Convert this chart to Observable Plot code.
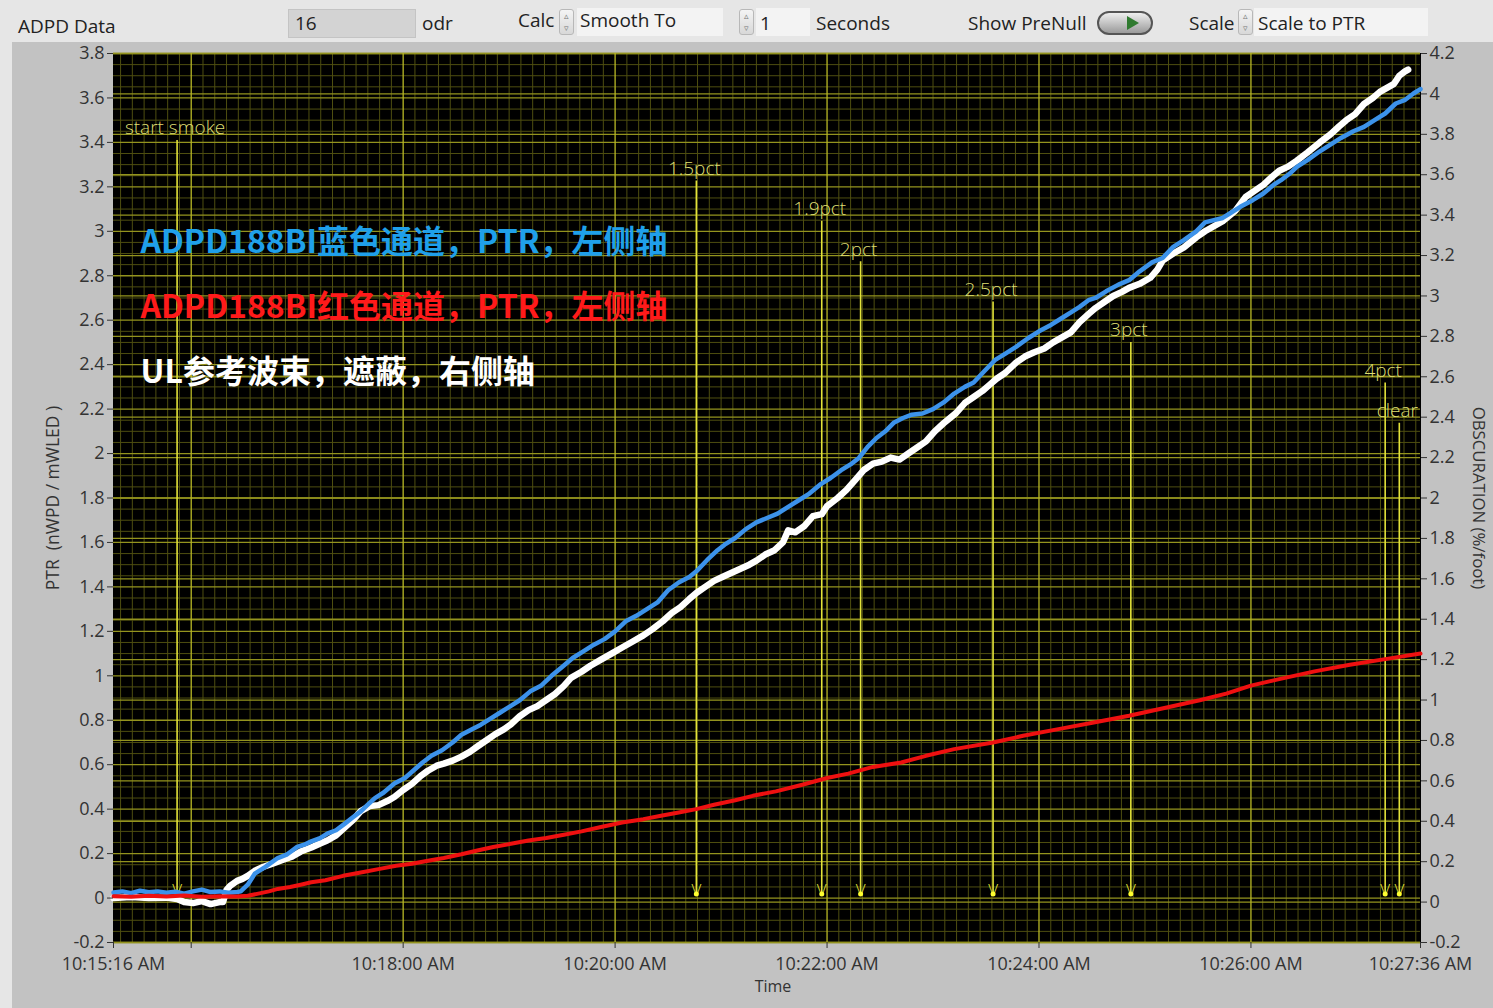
<!DOCTYPE html>
<html><head><meta charset="utf-8">
<script src="https://cdn.jsdelivr.net/npm/d3@7"></script>
<script src="https://cdn.jsdelivr.net/npm/@observablehq/plot@0.6"></script>
<style>
body{margin:0;width:1493px;height:1008px;overflow:hidden;position:relative;background:#e6e6e6;font-family:"Open Sans",sans-serif;}
.t{position:absolute;font-size:19px;color:#222;white-space:nowrap;line-height:24px;}
.box{position:absolute;box-sizing:border-box;}
.spin{position:absolute;width:15px;height:26px;box-sizing:border-box;border:1px solid #b8b8b8;border-radius:3px;background:linear-gradient(#f4f4f4,#d8d8d8);font-size:9px;color:#777;text-align:center;line-height:12px;}
#panel{position:absolute;left:12px;top:42px;}
</style></head><body>
<div class="box" style="left:288px;top:9px;width:128px;height:29px;background:#d3d3d3;border:1px solid #c4c4c4;"></div>
<div class="box" style="left:577px;top:8px;width:146px;height:28px;background:#f3f3f3;"></div>
<div class="box" style="left:756px;top:8px;width:54px;height:28px;background:#f3f3f3;"></div>
<div class="box" style="left:1254px;top:8px;width:174px;height:28px;background:#f3f3f3;"></div>
<div class="spin" style="left:559px;top:9px;">▵<br>▿</div>
<div class="spin" style="left:739px;top:9px;">▵<br>▿</div>
<div class="spin" style="left:1238px;top:9px;">▵<br>▿</div>
<div class="box" style="left:1097px;top:11px;width:56px;height:24px;border-radius:12px;border:2px solid #555;background:linear-gradient(#eeeeee,#9a9a9a);"></div>
<div class="box" style="left:1127px;top:16px;width:0;height:0;border-top:7px solid transparent;border-bottom:7px solid transparent;border-left:12px solid #2f7a2f;"></div>
<div class="t" style="left:18px;top:14px;">ADPD Data</div>
<div class="t" style="left:295px;top:11px;">16</div>
<div class="t" style="left:422px;top:11px;">odr</div>
<div class="t" style="left:518px;top:8px;">Calc</div>
<div class="t" style="left:580px;top:8px;">Smooth To</div>
<div class="t" style="left:760px;top:11px;">1</div>
<div class="t" style="left:816px;top:11px;">Seconds</div>
<div class="t" style="left:968px;top:11px;">Show PreNull</div>
<div class="t" style="left:1189px;top:11px;">Scale</div>
<div class="t" style="left:1258px;top:11px;">Scale to PTR</div>
<div id="panel"></div>
<script>
// ---------- data (time = seconds after 10:15:16) ----------
const startClock = "10:15:16";
const xTickClock = ["10:15:16","10:16:00","10:18:00","10:20:00","10:22:00","10:24:00","10:26:00","10:27:36"];
const xTickLabels = ["10:15:16 AM","","10:18:00 AM","10:20:00 AM","10:22:00 AM","10:24:00 AM","10:26:00 AM","10:27:36 AM"];
const leftTicks = [-0.2,0,0.2,0.4,0.6,0.8,1,1.2,1.4,1.6,1.8,2,2.2,2.4,2.6,2.8,3,3.2,3.4,3.6,3.8];
const rightTicks = [-0.2,0,0.2,0.4,0.6,0.8,1,1.2,1.4,1.6,1.8,2,2.2,2.4,2.6,2.8,3,3.2,3.4,3.6,3.8,4,4.2];

// ADPD188BI blue channel PTR (left axis)
const blueT = [0,5,10,15,20,25,30,35,40,45,50,55,60,65,70,72,76,80,86,93,98,104,108,112,117,121,126,131,135,140,144,148,153,159,165,170,175,180,186,192,197,203,208,213,219,225,230,236,242,248,254,260,266,272,278,284,290,296,302,308,314,320,326,330,336,342,346,352,358,364,370,376,382,388,394,400,406,412,418,422,427,432,437,442,447,452,458,464,470,476,482,487,493,499,505,511,518,524,531,537,543,547,552,556,562,569,575,581,588,594,600,606,613,618,623,628,632,638,645,651,657,661,666,670,676,683,689,695,702,708,714,720,726,731,736,740];
const blueV = [0.025,0.03,0.022,0.033,0.026,0.03,0.024,0.028,0.02,0.03,0.038,0.027,0.03,0.024,0.027,0.03,0.06,0.11,0.14,0.18,0.195,0.23,0.24,0.255,0.27,0.29,0.305,0.335,0.36,0.39,0.42,0.45,0.475,0.515,0.54,0.575,0.61,0.64,0.665,0.7,0.735,0.76,0.78,0.805,0.835,0.865,0.89,0.93,0.955,1.0,1.04,1.08,1.11,1.14,1.165,1.2,1.245,1.27,1.3,1.33,1.385,1.42,1.445,1.47,1.52,1.565,1.59,1.62,1.66,1.69,1.71,1.73,1.76,1.79,1.82,1.86,1.89,1.925,1.955,1.98,2.03,2.07,2.1,2.14,2.16,2.175,2.18,2.2,2.23,2.27,2.3,2.32,2.37,2.42,2.45,2.48,2.52,2.55,2.58,2.61,2.64,2.66,2.69,2.7,2.73,2.76,2.78,2.82,2.86,2.88,2.93,2.96,3.0,3.04,3.05,3.06,3.08,3.11,3.14,3.17,3.21,3.23,3.26,3.29,3.32,3.36,3.39,3.42,3.45,3.47,3.5,3.53,3.575,3.59,3.62,3.64];

// ADPD188BI red channel PTR (left axis)
const redT = [0,10,20,30,40,50,60,70,76,82,88,93,100,106,112,120,130,140,150,160,169,178,187,197,206,215,225,235,245,255,265,276,288,300,310,320,330,340,352,362,375,390,404,416,430,446,460,476,498,515,535,555,575,595,615,630,644,660,680,700,720,740];
const redV = [0.008,0.006,0.01,0.007,0.012,0.006,0.008,0.007,0.01,0.02,0.03,0.041,0.05,0.06,0.071,0.08,0.1,0.115,0.13,0.145,0.154,0.168,0.18,0.197,0.214,0.23,0.244,0.259,0.27,0.285,0.3,0.32,0.34,0.355,0.37,0.385,0.4,0.42,0.44,0.46,0.48,0.51,0.54,0.56,0.59,0.61,0.64,0.67,0.7,0.73,0.76,0.79,0.82,0.855,0.89,0.92,0.956,0.985,1.02,1.05,1.075,1.1];

// UL reference beam obscuration (right axis, %/foot)
const ulT = [0,10,20,30,36,40,45,50,55,60,62,64,66,70,73,76,80,85,90,96,101,106,112,117,121,126,131,136,140,145,150,155,159,164,169,174,178,183,187,192,197,202,206,211,216,221,225,230,235,240,245,250,255,259,265,270,276,282,288,294,300,305,311,316,321,326,330,335,340,345,350,355,360,364,369,374,379,382,386,391,396,401,404,410,415,420,425,430,435,440,445,450,455,460,465,470,477,482,487,492,496,500,505,511,516,521,527,532,537,542,547,552,556,561,566,571,575,581,587,591,594,600,606,613,618,623,628,635,641,646,651,656,660,665,670,676,683,689,694,698,703,708,713,717,721,725,728,731,733];
const ulV = [0.02,0.025,0.02,0.022,0.015,0.0,-0.005,0.005,-0.01,0.0,0.0,0.06,0.08,0.105,0.115,0.13,0.155,0.175,0.19,0.21,0.225,0.25,0.27,0.29,0.305,0.33,0.37,0.41,0.45,0.475,0.48,0.5,0.52,0.555,0.585,0.625,0.65,0.675,0.685,0.7,0.72,0.745,0.77,0.8,0.83,0.855,0.88,0.92,0.95,0.97,1.0,1.03,1.07,1.11,1.14,1.17,1.2,1.23,1.26,1.29,1.32,1.35,1.39,1.43,1.46,1.5,1.53,1.56,1.59,1.61,1.63,1.65,1.67,1.69,1.72,1.74,1.78,1.84,1.83,1.86,1.91,1.92,1.96,2.0,2.04,2.09,2.14,2.17,2.18,2.2,2.19,2.22,2.25,2.28,2.33,2.37,2.42,2.47,2.5,2.53,2.56,2.59,2.62,2.67,2.7,2.72,2.74,2.77,2.795,2.82,2.87,2.91,2.94,2.97,3.0,3.02,3.04,3.06,3.09,3.13,3.175,3.21,3.24,3.29,3.32,3.345,3.37,3.42,3.49,3.52,3.55,3.59,3.62,3.64,3.67,3.71,3.76,3.8,3.84,3.87,3.9,3.95,3.98,4.01,4.03,4.05,4.09,4.11,4.12];

// event markers
const eventNames = ["start smoke","1.5pct","1.9pct","2pct","2.5pct","3pct","4pct","clear"];
const eventClock = ["10:15:52","10:20:46","10:21:57","10:22:19","10:23:34","10:24:52","10:27:16","10:27:24"];
const eventLevel = [3.83,3.63,3.43,3.23,3.03,2.83,2.63,2.43]; // label height, right-axis units

const legendTexts = ["ADPD188BI蓝色通道，PTR，左侧轴","ADPD188BI红色通道，PTR，左侧轴","UL参考波束，遮蔽，右侧轴"];
const legendColors = ["#1fa0ea","#ff1a1a","#ffffff"];

// ---------- helpers ----------
const secs = s => { const [h,m,c] = s.split(":").map(Number); return h*3600+m*60+c; };
const t0 = secs(startClock);
const rel = s => secs(s) - t0;
const toLeft = r => -0.2 + (r + 0.2) * (4.0 / 4.4);
const fromLeft = v => (v + 0.2) * 1.1 - 0.2;
const fmt = v => String(Math.round(v * 10) / 10 + 0);

const xTicks = xTickClock.map(rel);
const xLabel = new Map(xTicks.map((t,i) => [t, xTickLabels[i]]));
const blue = blueT.map((t,i) => ({t, v: blueV[i]}));
const red = redT.map((t,i) => ({t, v: redV[i]}));
const ul = ulT.map((t,i) => ({t, v: toLeft(ulV[i])}));
const events = eventNames.map((n,i) => ({name:n, t: rel(eventClock[i]), y: toLeft(eventLevel[i])}));

const majorX = xTicks.slice(1, 7);
const step = 120 / 18;
const minorX = d3.range(-6, 110).map(k => xTicks[1] + k * step).filter((t,i) => t > 0 && t < 740 && ((i - 6) % 18 !== 0));
const minorY = d3.range(-4, 77).filter(i => i % 4 !== 0).map(i => i / 20);

const dim = "#4e4e10", bright = "#93931e", ev = "#e2e23a";
const legendFont = {fontSize: 32, fontWeight: "bold", fontFamily: "'Noto Sans CJK SC', 'Noto Sans', sans-serif", textAnchor: "start", lineAnchor: "middle", frameAnchor: "top-left", dx: 27};

const chart = Plot.plot({
  width: 1481, height: 966,
  marginLeft: 101, marginRight: 73, marginTop: 11, marginBottom: 66,
  style: {background: "#c2c2c2", fontFamily: "Open Sans", fontSize: "18px", color: "#333", overflow: "visible"},
  x: {domain: [0, 740]},
  y: {domain: [-0.2, 3.8]},
  marks: [
    Plot.frame({fill: "black", stroke: "black"}),
    Plot.ruleY(minorY, {stroke: dim, strokeWidth: 1}),
    Plot.ruleX(minorX, {stroke: dim, strokeWidth: 1}),
    Plot.ruleY(leftTicks, {stroke: bright, strokeWidth: 1.3}),
    Plot.ruleY(rightTicks.map(toLeft), {stroke: bright, strokeWidth: 1.3}),
    Plot.ruleX(majorX, {stroke: "#b8b826", strokeWidth: 1.3}),
    Plot.ruleX(events, {x: "t", y1: d => d.y - 0.055, y2: 0.02, stroke: ev, strokeWidth: 1.6}),
    Plot.text(events, {x: "t", y: "y", dx: -2, text: "name", fill: "#dede72", fontSize: 19, fontWeight: 300}),
    Plot.text(events, {x: "t", y: 0.035, text: () => "V", fill: ev, fontSize: 17, fontWeight: 300}),
    Plot.dot(events, {x: "t", y: 0.018, r: 2.5, fill: "#ffff30"}),
    Plot.line(ul, {x: "t", y: "v", stroke: "#ffffff", strokeWidth: 6.5, strokeLinejoin: "round"}),
    Plot.line(blue, {x: "t", y: "v", stroke: "#3c92ea", strokeWidth: 4.5, strokeLinejoin: "round"}),
    Plot.line(red, {x: "t", y: "v", stroke: "#ee1010", strokeWidth: 4, strokeLinejoin: "round"}),
    Plot.text([legendTexts[0]], {...legendFont, dy: 189, fill: legendColors[0]}),
    Plot.text([legendTexts[1]], {...legendFont, dy: 254, fill: legendColors[1]}),
    Plot.text([legendTexts[2]], {...legendFont, dy: 319, fill: legendColors[2]}),
    Plot.axisX(xTicks, {tickFormat: d => xLabel.get(d), tickSize: 6, tickPadding: 9, label: null}),
    Plot.axisY(leftTicks, {anchor: "left", tickFormat: fmt, tickSize: 6, tickPadding: 3, label: null}),
    Plot.axisY(rightTicks.map(toLeft), {anchor: "right", tickFormat: d => fmt(fromLeft(d)), tickSize: 6, tickPadding: 3, label: null}),
    Plot.text(["PTR  (nWPD / mWLED )"], {frameAnchor: "left", dx: -60, rotate: -90, textAnchor: "middle", fontSize: 17.5, fill: "#333"}),
    Plot.text(["OBSCURATION (%/foot)"], {frameAnchor: "right", dx: 58, rotate: 90, textAnchor: "middle", fontSize: 16.8, fill: "#333"}),
    Plot.text(["Time"], {frameAnchor: "bottom", dx: 6, dy: 49, fontSize: 16, fill: "#333"})
  ]
});
document.getElementById("panel").appendChild(chart);
</script>
</body></html>
